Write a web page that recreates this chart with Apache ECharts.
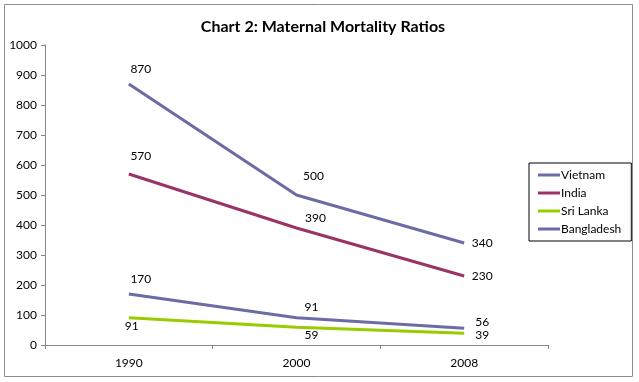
<!DOCTYPE html>
<html><head><meta charset="utf-8">
<script src="https://cdn.jsdelivr.net/npm/echarts@6/dist/echarts.min.js"></script>
<style>html,body{margin:0;padding:0;background:#fff}#c{width:639px;height:382px}</style>
</head><body><div id="c"></div>
<script>
const categories = ['1990', '2000', '2008'];
const vietnam = [170, 91, 56];
const india = [570, 390, 230];
const sriLanka = [91, 59, 39];
const bangladesh = [870, 500, 340];
const yTicks = [0, 100, 200, 300, 400, 500, 600, 700, 800, 900, 1000];

const FONT = 'Lato';
const labelOffsets = {
  Vietnam: [[12, -15], [15, -11], [18, -6]],
  India: [[12, -18], [19, -10], [18, 0]],
  'Sri Lanka': [[3, 8], [15, 8], [18, 2]],
  Bangladesh: [[12, -15], [17, -19], [18, 0]]
};

function mk(name, values, color) {
  return {
    name, type: 'line', data: values.map((v, i) => ({
      value: v,
      label: { show: true, position: 'inside', offset: labelOffsets[name][i] }
    })),
    symbol: 'circle', symbolSize: 0, showSymbol: true, smooth: false,
    lineStyle: { color, width: 3 }, itemStyle: { color },
    label: { show: true, color: '#000', fontFamily: FONT, fontSize: 12 },
    z: 2
  };
}

const chart = echarts.init(document.getElementById('c'), null, { renderer: 'canvas' });
chart.setOption({
  animation: false,
  backgroundColor: '#fff',
  graphic: [{
    type: 'rect', shape: { x: 4.5, y: 4.5, width: 628, height: 372 },
    style: { fill: 'none', stroke: '#8c8c8c', lineWidth: 1 }, silent: true
  }],
  title: {
    text: 'Chart 2: Maternal Mortality Ratios', left: 318, top: 14, textAlign: 'center',
    textStyle: { fontFamily: FONT, fontSize: 16, fontWeight: 'bold', color: '#000' }
  },
  legend: {
    orient: 'vertical', left: 529, top: 163, width: 100,
    itemWidth: 22, itemHeight: 3, itemGap: 6, padding: [6, 10, 6, 9],
    borderColor: '#000', borderWidth: 1,
    icon: 'rect',
    textStyle: { fontFamily: FONT, fontSize: 12, color: '#000', padding: [0, 0, 0, -4] },
    data: ['Vietnam', 'India', 'Sri Lanka', 'Bangladesh']
  },
  grid: { left: 45, right: 91, top: 45, bottom: 37, containLabel: false },
  xAxis: {
    type: 'category', data: categories, boundaryGap: true,
    axisLine: { lineStyle: { color: '#888', width: 1 } },
    axisTick: { show: true, alignWithLabel: false, length: 4, lineStyle: { color: '#888' } },
    axisLabel: { fontFamily: FONT, fontSize: 12, color: '#000', margin: 12 }
  },
  yAxis: {
    type: 'value', min: yTicks[0], max: yTicks[yTicks.length - 1], interval: 100,
    axisLine: { show: true, lineStyle: { color: '#888', width: 1 } },
    axisTick: { show: true, length: 4, lineStyle: { color: '#888' } },
    splitLine: { show: false },
    axisLabel: { fontFamily: FONT, fontSize: 12, color: '#000', margin: 8, formatter: v => String(v) }
  },
  series: [
    mk('Vietnam', vietnam, '#6b6ba6'),
    mk('India', india, '#9a3366'),
    mk('Sri Lanka', sriLanka, '#99cc00'),
    mk('Bangladesh', bangladesh, '#6b6ba6')
  ]
});
</script></body></html>
